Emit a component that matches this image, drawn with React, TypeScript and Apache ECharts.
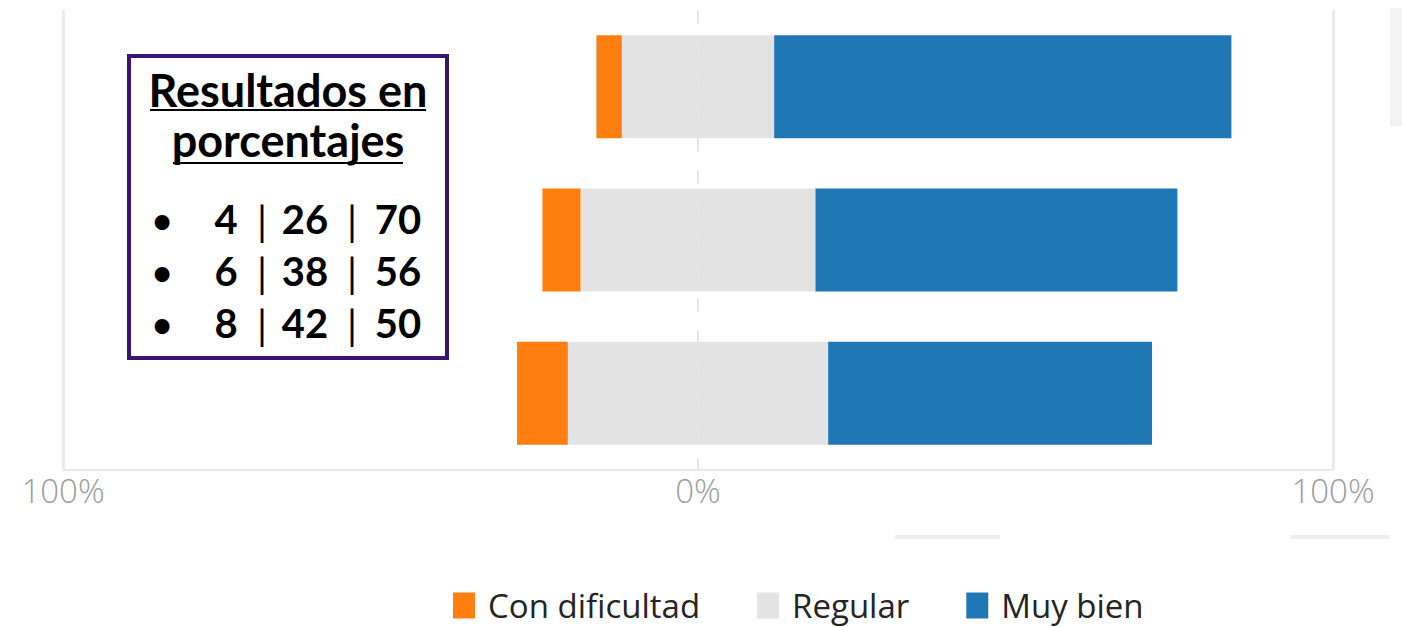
import React, { useEffect, useRef } from "react";
import * as echarts from "echarts";

const categories = ["Grupo 1", "Grupo 2", "Grupo 3"];
const conDificultad = [4, 6, 8];
const regular = [24, 37, 41];
const muyBien = [72, 57, 51];
const tickValues = [-100, 0, 100];
const boxTitle = ["Resultados en", "porcentajes"];
const boxRows = [
  ["4", "26", "70"],
  ["6", "38", "56"],
  ["8", "42", "50"],
];

const ORANGE = "#fe7f0f";
const GRAY = "#e3e3e3";
const BLUE = "#1f77b4";

export default function App() {
  const ref = useRef<HTMLDivElement>(null);
  useEffect(() => {
    if (!ref.current) return;
    const chart = echarts.init(ref.current, null, { renderer: "svg" });
    const boxFont = "Lato, 'Open Sans', sans-serif";
    const graphics: any[] = [
      { type: "rect", shape: { x: 1390, y: 8, width: 12, height: 118 }, style: { fill: "#f3f3f3" }, z: 0 },
      { type: "rect", shape: { x: 895, y: 535, width: 105, height: 4 }, style: { fill: "#eeeeee" }, z: 0 },
      { type: "rect", shape: { x: 1290, y: 535, width: 100, height: 4 }, style: { fill: "#eeeeee" }, z: 0 },
      {
        type: "rect",
        shape: { x: 129, y: 56, width: 318, height: 302 },
        style: { fill: "#ffffff", stroke: "#3a1470", lineWidth: 4 },
        z: 10,
      },
    ];
    const titleY = [90, 140];
    boxTitle.forEach((t, i) => {
      graphics.push({
        type: "text",
        x: 288,
        y: titleY[i],
        style: {
          text: t,
          font: `bold 45px ${boxFont}`,
          fill: "#000",
          align: "center",
          verticalAlign: "middle",
        },
        z: 11,
      });
    });
    graphics.push({ type: "line", shape: { x1: 150, y1: 110, x2: 426, y2: 110 }, style: { stroke: "#000", lineWidth: 2 }, z: 11 });
    graphics.push({ type: "line", shape: { x1: 173, y1: 163, x2: 403, y2: 163 }, style: { stroke: "#000", lineWidth: 2 }, z: 11 });
    const colX = [226, 262, 305, 352, 398];
    boxRows.forEach((row, r) => {
      const y = 219 + r * 52;
      graphics.push({
        type: "text",
        x: 162,
        y,
        style: { text: "•", font: `bold 34px ${boxFont}`, fill: "#000", align: "center", verticalAlign: "middle" },
        z: 11,
      });
      const parts = [row[0], "|", row[1], "|", row[2]];
      parts.forEach((p, k) => {
        graphics.push({
          type: "text",
          x: colX[k],
          y: y + (p === "|" ? 2 : 0),
          style: {
            text: p,
            font: p === "|" ? `normal 40px ${boxFont}` : `bold 40px ${boxFont}`,
            fill: "#000",
            align: "center",
            verticalAlign: "middle",
          },
          z: 11,
        });
      });
    });

    chart.setOption({
      animation: false,
      backgroundColor: "#ffffff",
      grid: { left: 63, right: 69, top: 10, bottom: 157, containLabel: false },
      legend: {
        data: ["Con dificultad", "Regular", "Muy bien"],
        left: 453,
        top: 589,
        padding: 0,
        icon: "rect",
        itemWidth: 22,
        itemHeight: 26,
        itemGap: 57,
        textStyle: {
          fontFamily: "'Open Sans', sans-serif",
          fontSize: 33,
          lineHeight: 33,
          color: "#252423",
          padding: [0, 0, 0, 8],
        },
      },
      xAxis: {
        type: "value",
        min: -100,
        max: 100,
        interval: 100,
        axisLine: { show: true, lineStyle: { color: "#e8e8e8", width: 2 } },
        axisTick: { show: false },
        splitLine: { show: false },
        axisLabel: {
          margin: 4,
          fontFamily: "'Open Sans', sans-serif",
          fontWeight: 300,
          fontSize: 33,
          color: "#9c9c9c",
          formatter: (v: number) => (tickValues.includes(v) ? Math.abs(v) + "%" : ""),
        },
      },
      yAxis: {
        type: "category",
        data: categories,
        inverse: true,
        axisLine: { show: false },
        axisTick: { show: false },
        axisLabel: { show: false },
      },
      series: [
        {
          name: "Regular",
          type: "bar",
          stack: "total",
          barWidth: 103,
          itemStyle: { color: GRAY },
          data: regular.map((v) => -v / 2),
          z: 2,
          markLine: {
            silent: true,
            symbol: "none",
            label: { show: false },
            lineStyle: { color: "#ebebeb", width: 3, type: "solid" },
            data: [{ xAxis: -100 }, { xAxis: 100 }],
            z: 1,
          },
        },
        {
          name: "Con dificultad",
          type: "bar",
          stack: "total",
          barWidth: 103,
          itemStyle: { color: ORANGE },
          data: conDificultad.map((v) => -v),
          z: 2,
        },
        {
          name: "Regular",
          type: "bar",
          stack: "total",
          barWidth: 103,
          itemStyle: { color: GRAY },
          data: regular.map((v) => v / 2),
          z: 2,
        },
        {
          name: "Muy bien",
          type: "bar",
          stack: "total",
          barWidth: 103,
          itemStyle: { color: BLUE },
          data: muyBien,
          z: 2,
          markLine: {
            silent: true,
            symbol: "none",
            label: { show: false },
            lineStyle: { color: "#e6e6e6", width: 2, type: [14, 18] },
            data: [{ xAxis: 0 }],
            z: 3,
          },
        },
      ],
      graphic: graphics,
    });
    return () => chart.dispose();
  }, []);
  return <div ref={ref} style={{ position: "absolute", left: 0, top: 0, width: 1402, height: 627 }} />;
}
